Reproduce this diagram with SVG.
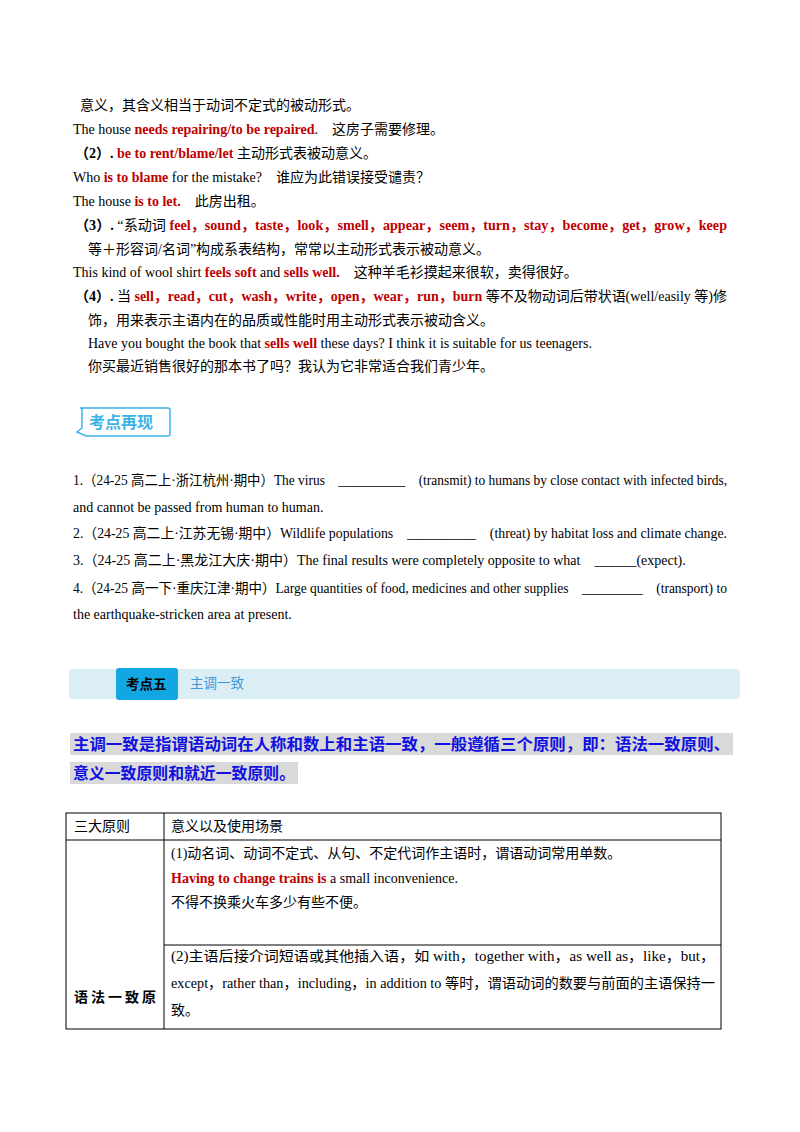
<svg xmlns="http://www.w3.org/2000/svg" width="800" height="1132" viewBox="0 0 800 1132">
<style>
text{font-family:"Liberation Serif","Noto Sans CJK SC",serif;font-size:14px;fill:#000}
.r{fill:#c00000;font-weight:bold}
.b{font-weight:bold}
.blue{fill:#1010e0;font-weight:bold;font-size:15.5px}
.cell{fill:none;stroke:#000;stroke-width:1}
</style>
<rect width="800" height="1132" fill="#fff"/>
<g id="body">
<text x="80" y="110">意义，其含义相当于动词不定式的被动形式。</text>
<text x="73" y="134">The house <tspan class="r">needs repairing/to be repaired</tspan>.　这房子需要修理。</text>
<text x="75" y="158"><tspan class="b">（2）. </tspan><tspan class="r">be to rent/blame/let</tspan> 主动形式表被动意义。</text>
<text x="73" y="182">Who <tspan class="r">is to blame</tspan> for the mistake?　谁应为此错误接受谴责？</text>
<text x="73" y="206">The house <tspan class="r">is to let.</tspan>　此房出租。</text>
<text x="75" y="230" textLength="652" lengthAdjust="spacingAndGlyphs"><tspan class="b">（3）. </tspan>“系动词 <tspan class="r">feel，sound，taste，look，smell，appear，seem，turn，stay，become，get，grow，keep</tspan></text>
<text x="88" y="254">等＋形容词/名词”构成系表结构，常常以主动形式表示被动意义。</text>
<text x="73" y="277">This kind of wool shirt <tspan class="r">feels soft</tspan> and <tspan class="r">sells well.</tspan>　这种羊毛衫摸起来很软，卖得很好。</text>
<text x="75" y="301" textLength="652" lengthAdjust="spacingAndGlyphs"><tspan class="b">（4）. </tspan>当 <tspan class="r">sell，read，cut，wash，write，open，wear，run，burn</tspan> 等不及物动词后带状语(well/easily 等)修</text>
<text x="88" y="325">饰，用来表示主语内在的品质或性能时用主动形式表示被动含义。</text>
<text x="88" y="348">Have you bought the book that <tspan class="r">sells well</tspan> these days? I think it is suitable for us teenagers.</text>
<text x="88" y="371">你买最近销售很好的那本书了吗？我认为它非常适合我们青少年。</text>
</g>
<g id="badge">
<path d="M80 408 H168 Q170 408 170 410 V434 Q170 436 168 436 H86 L77 432 L82 428 V410 Q82 408 84 408 Z" fill="#fff" stroke="#3cb3e6" stroke-width="1.5"/>
<text x="89" y="428" style="font-family:'Noto Sans CJK SC',sans-serif;font-size:16px;font-weight:bold;fill:#3cb3e6">考点再现</text>
</g>
<g id="questions">
<text x="73" y="485" textLength="654" lengthAdjust="spacingAndGlyphs">1.（24-25 高二上·浙江杭州·期中）The virus　__________　(transmit) to humans by close contact with infected birds,</text>
<text x="73" y="512">and cannot be passed from human to human.</text>
<text x="73" y="538" textLength="654" lengthAdjust="spacingAndGlyphs">2.（24-25 高二上·江苏无锡·期中）Wildlife populations　__________　(threat) by habitat loss and climate change.</text>
<text x="73" y="565">3.（24-25 高二上·黑龙江大庆·期中）The final results were completely opposite to what　______(expect).</text>
<text x="73" y="593" textLength="654" lengthAdjust="spacingAndGlyphs">4.（24-25 高一下·重庆江津·期中）Large quantities of food, medicines and other supplies　_________　(transport) to</text>
<text x="73" y="619">the earthquake-stricken area at present.</text>
</g>
<g id="header">
<rect x="69" y="669" width="671" height="30" rx="4" fill="#dbeef5"/>
<rect x="116" y="668" width="62" height="32" rx="3" fill="#12a7e2"/>
<text x="126" y="689" style="font-family:'Noto Sans CJK SC',sans-serif;font-size:13.5px;font-weight:bold">考点五</text>
<text x="190" y="688" style="font-family:'Noto Sans CJK SC',sans-serif;font-size:13.5px;fill:#3a9ad9">主调一致</text>
</g>
<g id="intro">
<rect x="70" y="733" width="663" height="22" fill="#d9d9d9"/>
<rect x="70" y="762" width="228" height="22" fill="#d9d9d9"/>
<text class="blue" x="73" y="750" textLength="657" lengthAdjust="spacingAndGlyphs">主调一致是指谓语动词在人称和数上和主语一致，一般遵循三个原则，即：语法一致原则、</text>
<text class="blue" x="73" y="779" textLength="222" lengthAdjust="spacingAndGlyphs">意义一致原则和就近一致原则。</text>
</g>
<g id="table">
<rect class="cell" x="66" y="813" width="655" height="216"/>
<line class="cell" x1="164" y1="813" x2="164" y2="1029"/>
<line class="cell" x1="66" y1="840" x2="721" y2="840"/>
<line class="cell" x1="164" y1="945" x2="721" y2="945"/>
<text x="74" y="831">三大原则</text>
<text x="171" y="831">意义以及使用场景</text>
<text x="171" y="858">(1)动名词、动词不定式、从句、不定代词作主语时，谓语动词常用单数。</text>
<text x="171" y="883"><tspan class="r">Having to change trains is</tspan> a small inconvenience.</text>
<text x="171" y="907">不得不换乘火车多少有些不便。</text>
<text x="171" y="961" textLength="544" lengthAdjust="spacingAndGlyphs">(2)主语后接介词短语或其他插入语，如 with，together with，as well as，like，but，</text>
<text x="171" y="988" textLength="544" lengthAdjust="spacingAndGlyphs">except，rather than，including，in addition to 等时，谓语动词的数要与前面的主语保持一</text>
<text x="171" y="1015">致。</text>
<text x="74" y="1002" class="b" letter-spacing="3">语法一致原</text>
</g>
</svg>
